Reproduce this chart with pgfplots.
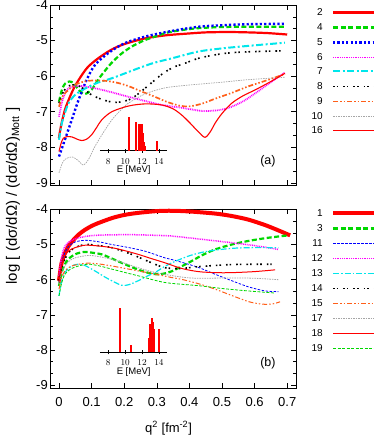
\documentclass[border=0pt]{standalone}
\usepackage{fontspec}
\setmainfont{Liberation Sans}
\usepackage{pgfplots}
\pgfplotsset{compat=1.18}

\definecolor{cgreen}{RGB}{0,215,0}
\definecolor{corange}{RGB}{255,95,25}
\definecolor{cgray}{RGB}{165,165,165}
\definecolor{ccyan}{RGB}{0,230,235}
\definecolor{cmag}{RGB}{255,0,255}

% line styles, shared by curves and legend
\tikzset{
  s1/.style={red, line width=4pt},
  s2/.style={red, line width=2.2pt},
  s3/.style={cgreen, line width=2.2pt, dash pattern=on 5pt off 2.5pt},
  s4/.style={s3},
  s5/.style={blue, line width=2.4pt, dash pattern=on 2.2pt off 2.2pt},
  s6/.style={cmag, line width=1.8pt, dash pattern=on 0.9pt off 0.9pt},
  s7/.style={ccyan, line width=2pt, dash pattern=on 7pt off 2.5pt on 2pt off 2.5pt},
  s8/.style={black, line width=1.6pt, dash pattern=on 1.6pt off 2pt on 1.6pt off 5pt},
  s9/.style={corange, line width=1.7pt, dash pattern=on 5pt off 2pt on 1.5pt off 2pt on 1.5pt off 2pt},
  s10/.style={cgray, line width=0.7pt, dash pattern=on 1.5pt off 1pt},
  s16/.style={red, line width=1.1pt},
  s11/.style={blue, line width=0.8pt, dash pattern=on 2.5pt off 1.5pt},
  s12/.style={cmag, line width=1.5pt, dash pattern=on 0.9pt off 0.9pt},
  s13/.style={ccyan, line width=1.2pt, dash pattern=on 6pt off 2pt on 1.5pt off 2pt},
  s14/.style={s8},
  s15/.style={corange, line width=1pt, dash pattern=on 5pt off 2pt on 1.5pt off 2pt on 1.5pt off 2pt},
  s17/.style={cgray, line width=0.8pt, dash pattern=on 1.5pt off 1pt},
  s18/.style={red, line width=1pt},
  s19/.style={cgreen, line width=0.8pt, dash pattern=on 3pt off 1.5pt},
  lab/.style={anchor=east, inner sep=0pt, font=\fontsize{10}{12}\selectfont},
}

\pgfplotsset{
  main/.style={
    scale only axis, width=246pt,
    xmin=-0.0276, xmax=0.727,
    xtick={0,0.1,0.2,0.3,0.4,0.5,0.6,0.7},
    ytick={-9,-8,-7,-6,-5,-4},
    yticklabels={-9,-8,-7,-6,-5,-4},
    minor y tick num=2,
    tick align=inside,
    major tick length=5pt, minor tick length=3pt,
    every tick/.style={black, line width=0.5pt},
    axis line style={line width=0.7pt},
    tick label style={font=\fontsize{13}{15}\selectfont},
    yticklabel style={inner sep=2pt},
    every axis plot/.append style={smooth, line cap=butt, line join=round},
  },
  inset/.style={
    scale only axis, width=67.6pt, height=50pt,
    xmin=7, xmax=15, ymin=0, ymax=50,
    axis x line*=bottom, axis y line=none,
    xtick={8,10,12,14},
    tick align=center, major tick length=4pt,
    every tick/.style={black, line width=0.5pt},
    axis line style={line width=0.6pt},
    tick label style={font=\fontsize{9}{10}\selectfont, inner sep=0.5pt},
    xticklabel style={anchor=center, yshift=-8.5pt},
    xlabel={E [MeV]},
    xlabel style={font=\fontsize{9.5}{11}\selectfont, inner sep=0.5pt, at={(axis description cs:0.5,0)}, anchor=center, yshift=-19.5pt},
  },
}

\begin{document}
\begin{tikzpicture}

% ---------- panel (a)
\begin{axis}[main, at={(50pt,250pt)}, anchor=south west, height=180pt,
  ymin=-9.06, ymax=-4.0, xticklabels={}]
\addplot[s2] coordinates {
 (0,-7.74) (0.005,-7.45) (0.018,-6.95) (0.035,-6.55) (0.049,-6.28) (0.07,-5.97)
 (0.09,-5.73) (0.12,-5.5) (0.16,-5.26) (0.2,-5.1) (0.264,-4.94) (0.33,-4.85)
 (0.4,-4.8) (0.45,-4.77) (0.52,-4.76) (0.58,-4.77) (0.64,-4.79) (0.7,-4.83)};
\addplot[s4] coordinates {
 (0,-6.72) (0.01,-6.35) (0.02,-6.2) (0.032,-6.15) (0.045,-6.2) (0.062,-6.4)
 (0.08,-6.5) (0.1,-6.38) (0.12,-6.1) (0.14,-5.86) (0.16,-5.64) (0.19,-5.38)
 (0.223,-5.17) (0.26,-5.0) (0.294,-4.89) (0.33,-4.78) (0.38,-4.7) (0.43,-4.65)
 (0.5,-4.62) (0.58,-4.61) (0.69,-4.61)};
\addplot[s5] coordinates {
 (0,-8.26) (0.018,-7.79) (0.039,-7.23) (0.06,-6.67) (0.085,-6.1) (0.11,-5.69)
 (0.15,-5.36) (0.2,-5.08) (0.264,-4.89) (0.346,-4.73) (0.43,-4.61) (0.5,-4.57)
 (0.58,-4.54) (0.69,-4.53)};
\addplot[s6] coordinates {
 (0,-7.14) (0.01,-6.7) (0.02,-6.45) (0.03,-6.34) (0.05,-6.28) (0.07,-6.28)
 (0.11,-6.34) (0.16,-6.45) (0.213,-6.58) (0.265,-6.7) (0.315,-6.81) (0.376,-6.89)
 (0.43,-6.97) (0.46,-6.98) (0.5,-6.94) (0.53,-6.86) (0.57,-6.68) (0.61,-6.43)
 (0.65,-6.17) (0.693,-5.9)};
\addplot[s7] coordinates {
 (0,-7.79) (0.008,-7.35) (0.018,-7.04) (0.03,-6.75) (0.049,-6.53) (0.07,-6.4)
 (0.09,-6.3) (0.12,-6.18) (0.162,-6.06) (0.2,-5.93) (0.243,-5.78) (0.29,-5.63)
 (0.346,-5.5) (0.427,-5.31) (0.5,-5.22) (0.58,-5.15) (0.693,-5.06)};
\addplot[s8] coordinates {
 (0,-6.76) (0.01,-6.5) (0.025,-6.3) (0.04,-6.25) (0.054,-6.25) (0.075,-6.35)
 (0.095,-6.5) (0.13,-6.65) (0.172,-6.74) (0.213,-6.67) (0.24,-6.52) (0.264,-6.34)
 (0.29,-6.14) (0.315,-5.95) (0.335,-5.83) (0.356,-5.73) (0.38,-5.66) (0.427,-5.5)
 (0.48,-5.4) (0.53,-5.34) (0.6,-5.31) (0.683,-5.29)};
\addplot[s9] coordinates {
 (0,-6.86) (0.012,-6.55) (0.029,-6.39) (0.045,-6.26) (0.06,-6.2) (0.09,-6.13)
 (0.14,-6.13) (0.18,-6.19) (0.213,-6.28) (0.25,-6.42) (0.294,-6.58) (0.33,-6.72)
 (0.37,-6.83) (0.4,-6.85) (0.44,-6.77) (0.48,-6.63) (0.53,-6.47) (0.58,-6.29)
 (0.64,-6.11) (0.693,-5.94)};
\addplot[s10] coordinates {
 (0,-8.72) (0.01,-8.45) (0.02,-8.33) (0.04,-8.27) (0.06,-8.38) (0.075,-8.5)
 (0.09,-8.35) (0.11,-7.98) (0.135,-7.6) (0.162,-7.23) (0.19,-6.95) (0.213,-6.76)
 (0.264,-6.5) (0.325,-6.33) (0.4,-6.25) (0.5,-6.17) (0.58,-6.1) (0.693,-6.03)};
\addplot[s16] coordinates {
 (0,-8.12) (0.006,-7.9) (0.013,-7.75) (0.025,-7.7) (0.04,-7.71) (0.055,-7.77)
 (0.07,-7.81) (0.085,-7.77) (0.1,-7.65) (0.115,-7.45) (0.131,-7.23) (0.162,-7.0)
 (0.213,-6.84) (0.264,-6.78) (0.315,-6.81) (0.35,-6.92) (0.376,-7.09) (0.4,-7.3)
 (0.427,-7.56) (0.448,-7.72) (0.465,-7.55) (0.479,-7.32) (0.5,-7.05) (0.53,-6.76)
 (0.565,-6.55) (0.601,-6.39) (0.65,-6.15) (0.693,-5.92)};
\node[font=\fontsize{12.5}{14}\selectfont] at (axis description cs:0.886,0.133) {(a)};
\end{axis}

\begin{axis}[inset, at={(99.85pt,284.3pt)}, anchor=south west]
\addplot[ycomb, red, line width=1.8pt, line cap=butt] coordinates {
 (10.49,33.4) (11.24,29) (11.67,26.7) (11.83,26.7) (11.95,26.4) (12.1,17.4)
 (12.22,8.4) (12.34,5) (13.76,10)};
\end{axis}

% ---------- panel (b)
\begin{axis}[main, at={(50pt,47pt)}, anchor=south west, height=179pt,
  ymin=-9.08, ymax=-3.99,
  xticklabels={0,0.1,0.2,0.3,0.4,0.5,0.6,0.7},
  xticklabel style={yshift=-6pt},
  xlabel={q\textsuperscript{2} [fm\textsuperscript{-2}]},
  xlabel style={font=\fontsize{13}{15}\selectfont, at={(axis description cs:0.482,0)}, anchor=center, yshift=-40pt}]
\addplot[s1] coordinates {
 (0,-6.03) (0.004,-5.75) (0.008,-5.52) (0.018,-5.25) (0.029,-5.05) (0.045,-4.86)
 (0.06,-4.72) (0.08,-4.58) (0.11,-4.43) (0.162,-4.25) (0.2,-4.16) (0.243,-4.1)
 (0.3,-4.05) (0.346,-4.04) (0.4,-4.06) (0.479,-4.12) (0.53,-4.19) (0.58,-4.29)
 (0.63,-4.44) (0.663,-4.56) (0.709,-4.74)};
\addplot[s3] coordinates {
 (0,-6.18) (0.008,-5.8) (0.018,-5.56) (0.03,-5.4) (0.049,-5.28) (0.065,-5.23)
 (0.08,-5.21) (0.1,-5.23) (0.131,-5.28) (0.16,-5.39) (0.192,-5.52) (0.225,-5.65)
 (0.254,-5.75) (0.28,-5.82) (0.305,-5.85) (0.325,-5.82) (0.346,-5.76) (0.37,-5.65)
 (0.407,-5.47) (0.44,-5.3) (0.479,-5.14) (0.53,-5.0) (0.58,-4.9) (0.64,-4.81)
 (0.703,-4.74)};
\addplot[s11] coordinates {
 (0,-6.08) (0.008,-5.55) (0.018,-5.23) (0.03,-5.05) (0.049,-4.93) (0.08,-4.88)
 (0.12,-4.92) (0.162,-5.0) (0.21,-5.08) (0.264,-5.19) (0.325,-5.38) (0.356,-5.45)
 (0.427,-5.65) (0.48,-5.85) (0.53,-6.03) (0.58,-6.2) (0.632,-6.32) (0.673,-6.34)};
\addplot[s12] coordinates {
 (0,-5.9) (0.008,-5.35) (0.018,-5.05) (0.035,-4.9) (0.06,-4.81) (0.11,-4.74)
 (0.213,-4.72) (0.3,-4.74) (0.346,-4.76) (0.427,-4.84) (0.53,-4.95) (0.6,-5.03)
 (0.673,-5.14)};
\addplot[s13] coordinates {
 (0,-6.46) (0.008,-6.05) (0.018,-5.8) (0.039,-5.61) (0.06,-5.56) (0.08,-5.6)
 (0.11,-5.75) (0.14,-5.92) (0.162,-6.03) (0.192,-6.16) (0.215,-6.14) (0.243,-6.03)
 (0.27,-5.9) (0.294,-5.8) (0.325,-5.62) (0.356,-5.48) (0.4,-5.32) (0.44,-5.22)
 (0.479,-5.16) (0.53,-5.11) (0.58,-5.09) (0.673,-5.09)};
\addplot[s14] coordinates {
 (0,-6.03) (0.008,-5.65) (0.018,-5.42) (0.03,-5.22) (0.049,-5.09) (0.07,-5.02)
 (0.09,-5.0) (0.12,-5.03) (0.162,-5.09) (0.223,-5.28) (0.284,-5.52) (0.325,-5.66)
 (0.376,-5.68) (0.427,-5.63) (0.53,-5.57) (0.652,-5.56)};
\addplot[s15] coordinates {
 (0,-6.27) (0.008,-5.95) (0.018,-5.75) (0.035,-5.63) (0.06,-5.56) (0.09,-5.53)
 (0.12,-5.55) (0.162,-5.61) (0.243,-5.75) (0.3,-5.85) (0.346,-5.94) (0.376,-5.99)
 (0.43,-6.12) (0.479,-6.27) (0.53,-6.45) (0.58,-6.62) (0.61,-6.68) (0.632,-6.7)
 (0.655,-6.69) (0.678,-6.63)};
\addplot[s17] coordinates {
 (0,-6.13) (0.008,-5.8) (0.018,-5.61) (0.03,-5.48) (0.049,-5.38) (0.09,-5.31)
 (0.12,-5.34) (0.162,-5.42) (0.2,-5.53) (0.243,-5.66) (0.28,-5.76) (0.325,-5.85)
 (0.38,-5.93) (0.427,-5.96) (0.53,-5.95) (0.6,-5.96) (0.673,-6.0)};
\addplot[s18] coordinates {
 (0,-6.08) (0.008,-5.6) (0.018,-5.33) (0.03,-5.18) (0.049,-5.09) (0.08,-5.02)
 (0.12,-5.04) (0.162,-5.09) (0.2,-5.17) (0.243,-5.28) (0.28,-5.39) (0.325,-5.52)
 (0.376,-5.68) (0.427,-5.77) (0.48,-5.8) (0.53,-5.8) (0.6,-5.77) (0.663,-5.72)};
\addplot[s19] coordinates {
 (0,-6.46) (0.008,-6.1) (0.018,-5.85) (0.035,-5.7) (0.06,-5.61) (0.09,-5.56)
 (0.12,-5.6) (0.162,-5.7) (0.243,-5.89) (0.325,-6.08) (0.427,-6.17) (0.5,-6.25)
 (0.58,-6.32) (0.663,-6.38)};
\node[font=\fontsize{12.5}{14}\selectfont] at (axis description cs:0.886,0.14) {(b)};
\end{axis}

\begin{axis}[inset, at={(99.85pt,82.7pt)}, anchor=south west]
\addplot[ycomb, red, line width=1.8pt, line cap=butt] coordinates {
 (9.35,44) (10.65,7.3) (12.78,14) (12.97,28.3) (13.13,34.7) (13.25,30.7)
 (13.4,23.3) (13.96,23.3)};
\end{axis}

% ---------- keys (gnuplot style: label, then sample line)
\foreach \s [count=\i from 0] in {2,4,5,6,7,8,9,10,16} {
  \pgfmathsetmacro{\yy}{floor(435-13-14.75*\i)+0.5}
  \node[lab] at (323pt,\yy pt) {\s};
  \draw[s\s, line cap=butt] (333pt,\yy pt) -- (385pt,\yy pt);
}
\foreach \s [count=\i from 0] in {1,3,11,12,13,14,15,17,18,19} {
  \pgfmathsetmacro{\yy}{floor(435-214-14.9*\i)+0.5}
  \node[lab] at (323pt,\yy pt) {\s};
  \draw[s\s, line cap=butt] (333pt,\yy pt) -- (385pt,\yy pt);
}

\node[rotate=90, font=\fontsize{15}{17}\selectfont] at (13pt,239pt)
  {log [ (dσ/dΩ) / (dσ/dΩ)\textsubscript{Mott} ]};

\pgfresetboundingbox
\useasboundingbox (0,0) rectangle (373pt,435pt);
\end{tikzpicture}
\end{document}
